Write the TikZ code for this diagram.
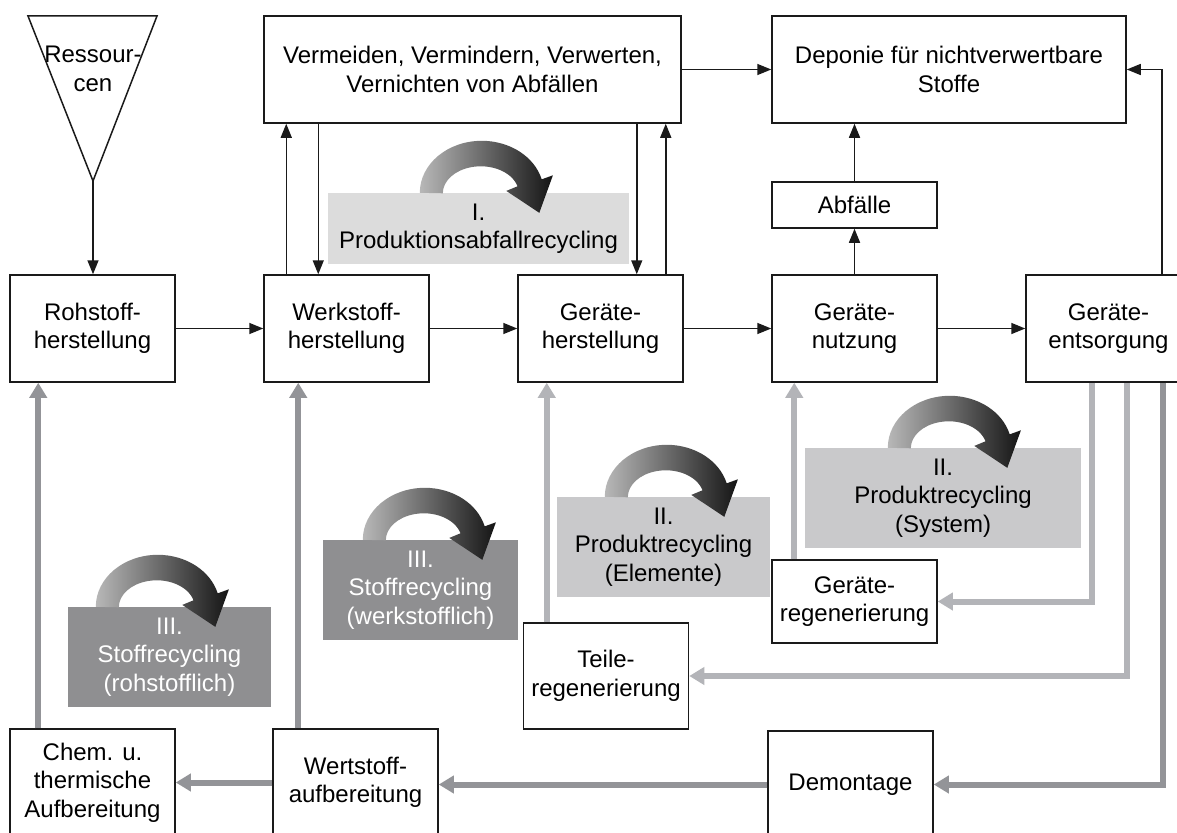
\documentclass[tikz,border=0pt]{standalone}
\usepackage{fontspec}
\setmainfont{Liberation Sans}
\usepackage{tikz}
\usetikzlibrary{arrows.meta,positioning}
\definecolor{ink}{HTML}{1A1A1A}
\definecolor{panel}{HTML}{DCDCDC}
\definecolor{panelmid}{HTML}{C9C9CB}
\definecolor{paneldark}{HTML}{8F8F91}
\definecolor{flowlight}{HTML}{B3B4B8}
\definecolor{flowdark}{HTML}{939498}

\begin{document}
\begin{tikzpicture}[
  x=1pt, y=-1pt,
  node distance=87.5pt,
  font=\fontsize{24}{28.5}\selectfont,
  box/.style={draw=ink, line width=1.5pt, align=center, inner sep=0pt,
              minimum width=165pt, minimum height=107pt},
  tag/.style={align=center, inner sep=0pt, minimum height=100pt},
  arr/.style={-{Triangle[length=14pt,width=11pt]}, draw=ink, line width=1.5pt},
  flow/.style={-{Triangle[length=15pt,width=17pt]}, draw=flowlight, line width=6pt},
  flowd/.style={flow, draw=flowdark},
  cyclearrow/.pic={
    \shade[left color=black!28, right color=black!92]
      (0,0) arc[start angle=180, end angle=345, x radius=62, y radius=52]
      -- (133.1,-17.5) -- (119.5,20) -- (86.5,-1.9) -- (97.7,-6.5)
      arc[start angle=345, end angle=180, x radius=38, y radius=27] -- cycle;
  }
]
\path[use as bounding box, fill=white] (0,0) rectangle (1177,832);

\draw[draw=ink, line width=1.5pt] (28,16) -- (157,16) -- (93,181) -- cycle;
\node[align=center, inner sep=0pt] (res) at (93,69) {Ressour-\\cen};
\coordinate (resapex) at (93,181);
\node[box, minimum width=417pt] (verm) at (472.5,69.5) {Vermeiden, Vermindern, Verwerten,\\Vernichten von Abfällen};
\node[box, minimum width=354pt] (dep) at (949,69.5) {Deponie für nichtverwertbare\\Stoffe};
\node[box, minimum height=46pt] (abf) at (854.5,205) {Abfälle};

\node[box] (roh) at (92.5,328.5) {Rohstoff-\\herstellung};
\node[box, right=of roh] (werk) {Werkstoff-\\herstellung};
\node[box, right=of werk] (geh) {Geräte-\\herstellung};
\node[box, right=of geh] (nutz) {Geräte-\\nutzung};
\node[box, right=of nutz] (ents) {Geräte-\\entsorgung};

\node[box, minimum height=83pt] (gregen) at (854.5,601.5) {Geräte-\\regenerierung};
\node[box, minimum height=106pt] (teile) at (606,676) {Teile-\\regenerierung};
\node[box] (chem) at (92.5,782.5) {Chem. u.\\thermische\\Aufbereitung};
\node[box] (wert) at (355.5,782.5) {Wertstoff-\\aufbereitung};
\node[box] (demo) at (850.5,784.5) {Demontage};

\node[tag, fill=panel, minimum width=301pt, minimum height=71pt] (pI) at (478.5,228.5) {I.\\Produktionsabfallrecycling};
\node[tag, fill=panelmid, minimum width=213pt] (pIIe) at (663.5,547) {II.\\Produktrecycling\\(Elemente)};
\node[tag, fill=panelmid, minimum width=276pt] (pIIs) at (943,498) {II.\\Produktrecycling\\(System)};
\node[tag, fill=paneldark, text=white, minimum width=195pt] (pIIIw) at (420.5,590) {III.\\Stoffrecycling\\(werkstofflich)};
\node[tag, fill=paneldark, text=white, minimum width=203pt] (pIIIr) at (169.5,657) {III.\\Stoffrecycling\\(rohstofflich)};

\pic at ([xshift=92pt]pI.north west) {cyclearrow};
\pic at ([xshift=48pt]pIIe.north west) {cyclearrow};
\pic at ([xshift=83pt]pIIs.north west) {cyclearrow};
\pic at ([xshift=40pt]pIIIw.north west) {cyclearrow};
\pic at ([xshift=28pt]pIIIr.north west) {cyclearrow};

\draw[arr] (resapex) -- (resapex |- roh.north);
\draw[arr] (roh) -- (werk);
\draw[arr] (werk) -- (geh);
\draw[arr] (geh) -- (nutz);
\draw[arr] (nutz) -- (ents);
\draw[arr] (verm) -- (dep);
\draw[arr] (nutz) -- (abf);
\draw[arr] (abf) -- (abf |- dep.south);

\coordinate (wu) at ([xshift=23pt]werk.north west);
\coordinate (wd) at ([xshift=55pt]werk.north west);
\coordinate (gd) at ([xshift=-47pt]geh.north east);
\coordinate (gu) at ([xshift=-18pt]geh.north east);
\coordinate (eu) at ([xshift=-30pt]ents.north east);
\draw[arr] (wu) -- (wu |- verm.south);
\draw[arr] (wd |- verm.south) -- (wd);
\draw[arr] (gd |- verm.south) -- (gd);
\draw[arr] (gu) -- (gu |- verm.south);
\draw[arr] (eu) |- (dep.east);

\coordinate (cu) at ([xshift=29pt]chem.north west);
\coordinate (wtu) at ([xshift=26pt]wert.north west);
\coordinate (tu) at ([xshift=24pt]teile.north west);
\coordinate (ru) at ([xshift=23pt]gregen.north west);
\coordinate (e1) at ([xshift=-100pt]ents.south east);
\coordinate (e2) at ([xshift=-65pt]ents.south east);
\coordinate (e3) at ([xshift=-29pt]ents.south east);
\draw[flowd] (cu) -- (cu |- roh.south);
\draw[flowd] (wtu) -- (wtu |- werk.south);
\draw[flow] (tu) -- (tu |- geh.south);
\draw[flow] (ru) -- (ru |- nutz.south);
\draw[flow] (e1) |- (gregen.east);
\draw[flow] (e2) |- (teile.east);
\draw[flowd] (e3) |- (demo.east);
\draw[flowd] (demo.west) -- (demo.west -| wert.east);
\draw[flowd] (wert) -- (chem);
\end{tikzpicture}
\end{document}
